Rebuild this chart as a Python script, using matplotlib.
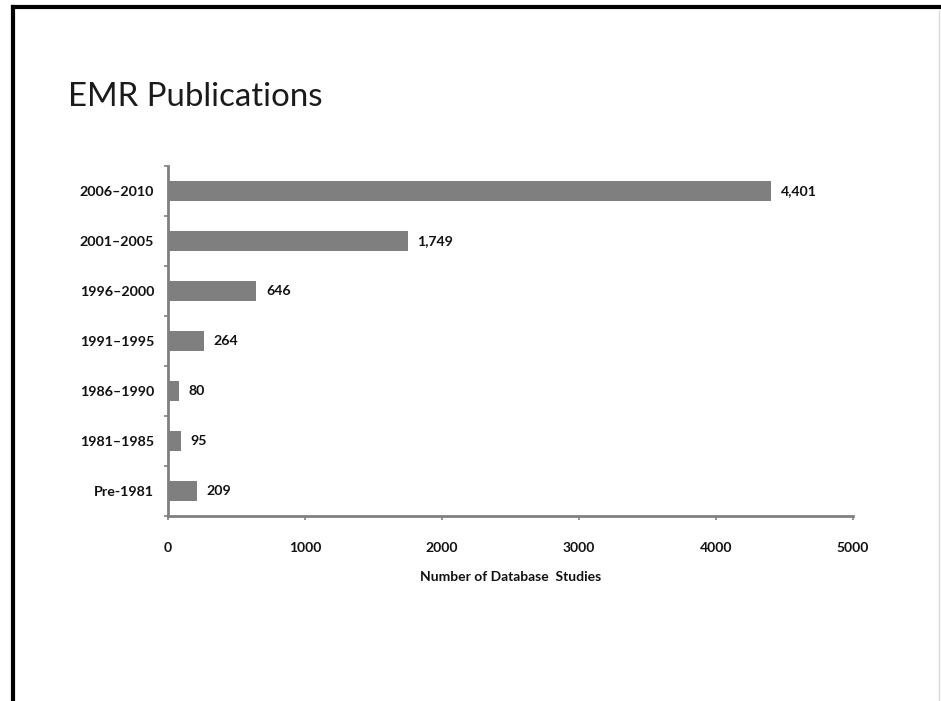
import matplotlib.pyplot as plt
from matplotlib.lines import Line2D

periods = ["Pre-1981", "1981\u20131985", "1986\u20131990", "1991\u20131995",
           "1996\u20132000", "2001\u20132005", "2006\u20132010"]
studies = [209, 95, 80, 264, 646, 1749, 4401]
x_ticks = [0, 1000, 2000, 3000, 4000, 5000]

plt.rcParams["font.family"] = ["Lato", "DejaVu Sans"]

fig = plt.figure(figsize=(9.41, 7.01), dpi=100)
fig.patch.set_facecolor("white")

# slide frame
fig.add_artist(Line2D([0.0138, 1.0], [0.990, 0.990], color="black", lw=3.0,
                      transform=fig.transFigure))
fig.add_artist(Line2D([0.0138, 0.0138], [0.0, 0.990], color="black", lw=3.0,
                      transform=fig.transFigure, solid_capstyle="projecting"))
fig.add_artist(Line2D([0.998, 0.998], [0.0, 0.985], color="#d8d8d8", lw=1.0,
                      transform=fig.transFigure))

fig.text(0.072, 0.861, "EMR Publications", fontsize=23.8, color="#1a1a1a",
         va="center", ha="left")

ax = fig.add_axes([0.1785, 0.2639, 0.728, 0.4993])
ypos = range(len(periods))
ax.barh(ypos, studies, height=0.4, color="#7f7f7f")

for y, v in zip(ypos, studies):
    ax.text(v + 70, y, f"{v:,}", va="center", ha="left", fontsize=10.2,
            fontweight="bold", color="#111111")

ax.set_xlim(0, 5000)
ax.set_ylim(-0.5, len(periods) - 0.5)
ax.set_xticks(x_ticks)
ax.set_xticklabels([str(t) for t in x_ticks], fontsize=10, fontweight="bold",
                   color="#111111")
ax.set_yticks(list(ypos))
ax.set_yticklabels(periods, fontsize=10.3, fontweight="bold", color="#111111")
ax.set_yticks([i - 0.5 for i in range(len(periods) + 1)], minor=True)
ax.tick_params(axis="y", which="major", length=0, pad=10)
ax.tick_params(axis="y", which="minor", length=3, color="#808080", width=1.2)
ax.tick_params(axis="x", length=3, color="#808080", width=1.2, pad=16)

for side in ["top", "right"]:
    ax.spines[side].set_visible(False)
for side in ["left", "bottom"]:
    ax.spines[side].set_color("#808080")
    ax.spines[side].set_linewidth(2)

ax.set_xlabel("Number of Database  Studies", fontsize=10, fontweight="bold",
              color="#111111", labelpad=12)

fig.savefig("out.png", dpi=100, facecolor="white")
